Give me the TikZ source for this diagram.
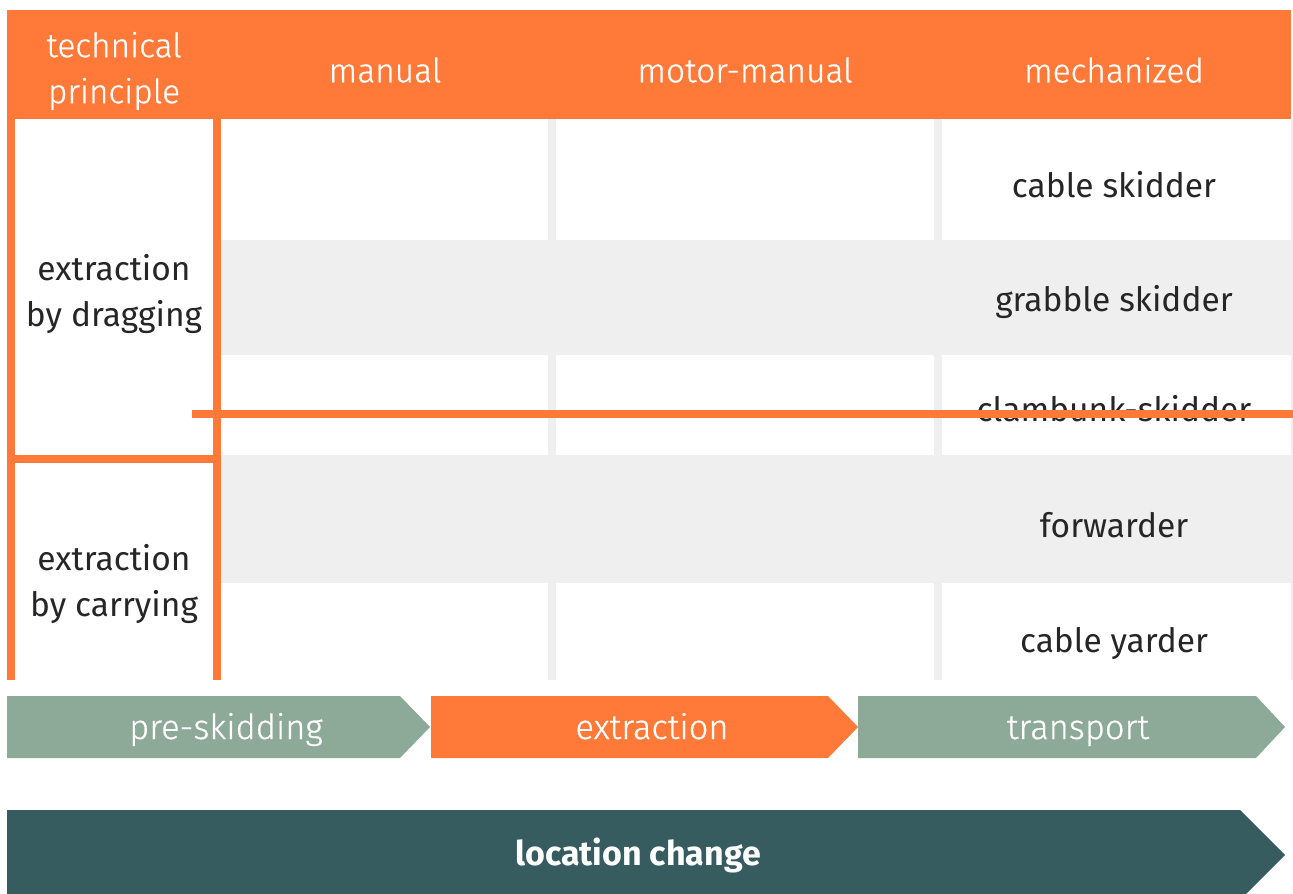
\documentclass[tikz,border=0pt]{standalone}
\usepackage{fontspec}
\setmainfont{Fira Sans}
\newfontfamily\lightfont{Fira Sans Light}[FakeBold=0.6]
\definecolor{hdorange}{RGB}{255,121,56}
\definecolor{cellgrey}{RGB}{239,239,239}
\definecolor{stepgreen}{RGB}{141,169,151}
\definecolor{darkteal}{RGB}{54,92,96}
\tikzset{
  hdtext/.style={text=white, font=\lightfont\fontsize{33.5}{46}\selectfont, align=center, inner sep=0pt},
  celltext/.style={text=black!85, font=\fontsize{33.5}{46}\selectfont, align=center, inner sep=0pt},
  steptext/.style={text=white, font=\lightfont\fontsize{34.5}{40}\selectfont, inner sep=0pt, anchor=base},
}
\begin{document}
\begin{tikzpicture}[x=1pt, y=-1pt]
\useasboundingbox (0,0) rectangle (1293,894); % page size
\fill[white] (0,0) rectangle (1293,894); % background
\fill[hdorange] (7,10) rectangle (1291,119); % header band
\fill[cellgrey] (221,240) rectangle (1293,355); % grey row 2
\fill[cellgrey] (221,455) rectangle (1293,583); % grey row 4
\fill[cellgrey] (1291,119) rectangle (1293,680); % right edge
\foreach \ya/\yb in {119/240, 355/455, 583/680} {
  \fill[cellgrey] (548,\ya) rectangle (556,\yb); % column gap 1
  \fill[cellgrey] (934,\ya) rectangle (942,\yb); % column gap 2
}
\fill[hdorange] (7,119) rectangle (15,680); % left frame
\fill[hdorange] (213,119) rectangle (221,680); % inner frame
\fill[hdorange] (7,455) rectangle (221,463); % frame between groups
% header
\node[hdtext] (principle) at (114,71) {technical\\principle};
\node[hdtext] (manual) at (385,70) {manual};
\node[hdtext] (motormanual) at (745,70) {motor-manual};
\node[hdtext] (mechanized) at (1114,70) {mechanized};
% groups
\node[celltext] (dragging) at (114,294) {extraction\\by dragging};
\node[celltext] (carrying) at (114,584) {extraction\\by carrying};
% machines
\node[celltext] (cableskidder) at (1114,185) {cable skidder};
\node[celltext] (grabble) at (1114,302) {grabble skidder};
\node[celltext] (clambunk) at (1114,409) {clambunk-skidder};
\node[celltext] (forwarder) at (1114,525) {forwarder};
\node[celltext] (yarder) at (1114,643) {cable yarder};
\fill[hdorange] (192,410) rectangle (1293,418); % line through clambunk
% process steps
\fill[stepgreen] (7,696) -- (400,696) -- (430,727) -- (400,758) -- (7,758) -- cycle;
\fill[hdorange] (431,696) -- (828,696) -- (858,727) -- (828,758) -- (431,758) -- cycle;
\fill[stepgreen] (858,696) -- (1256,696) -- (1285,727) -- (1256,758) -- (858,758) -- cycle;
\node[steptext] (preskid) at (226,739) {pre-skidding};
\node[steptext] (extract) at (652,739) {extraction};
\node[steptext] (transport) at (1078,739) {transport};
\fill[darkteal] (7,810) -- (1240,810) -- (1285,855) -- (1240,900) -- (7,900) -- cycle; % big arrow
\node[text=white, font=\bfseries\fontsize{34}{40}\selectfont, inner sep=0pt] (location) at (638,855) {location change};
\end{tikzpicture}
\end{document}
